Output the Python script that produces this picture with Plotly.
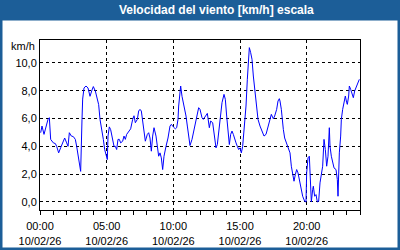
import datetime as dt
import plotly.graph_objects as go

# minutes after 10/02/26 00:00
minutes = [3, 9, 18, 27, 36, 42, 48, 60, 69, 75, 84, 93, 102, 111, 120, 126, 132, 141, 150, 159,
           165, 171, 177, 183, 189, 192, 198, 207, 216, 225, 234, 240, 249, 258, 264, 270, 276, 285,
           291, 297, 303, 306, 312, 318, 324, 333, 339, 345, 351, 357,
           363, 372, 378, 384, 390, 399, 408, 417, 423, 429, 438, 444, 450, 456, 462, 468, 474, 483,
           489, 495, 501, 507, 513, 522, 528, 534, 540, 546, 552, 558, 567, 576, 585, 591, 600, 609,
           615, 621, 624, 630, 633, 639, 648, 657, 663, 669, 675, 684, 693, 702, 711, 714, 720,
           729, 735, 744, 753, 762, 768, 777, 786, 792, 798, 804, 810, 819, 828, 834, 840, 846, 852,
           858, 864, 870, 876, 882, 888, 894, 900, 906, 912, 918, 927, 933, 939, 942, 948, 954, 960,
           966, 975, 981, 990, 999, 1008, 1017, 1023, 1032, 1041, 1050, 1056, 1065, 1071, 1077,
           1080, 1086, 1089, 1095, 1101, 1110, 1119, 1125, 1131, 1137, 1143, 1149, 1155, 1161, 1167,
           1173, 1182, 1191, 1197, 1200, 1206, 1212, 1218, 1221, 1227, 1230, 1236, 1242, 1248, 1254,
           1260, 1266, 1272, 1278, 1284, 1290, 1296, 1302, 1305, 1311, 1317, 1323, 1332, 1335, 1338,
           1341, 1344, 1347, 1353, 1356, 1362, 1368, 1374, 1380, 1383, 1389, 1392, 1398, 1404, 1410,
           1416, 1425, 1431, 1437]
speed = [4.98, 5.46, 4.86, 5.46, 5.94, 6.06, 4.5, 4.25, 4.2, 4.0, 3.53, 3.9, 4.25, 4.6, 4.25, 4.0,
         4.98, 4.74, 4.7, 4.5, 4.0, 3.4, 3.05, 2.2, 5.94, 7.4, 8.2, 8.34, 8.2, 7.6, 8.05, 8.3, 7.98,
         7.5, 7.0, 5.94, 5.46, 4.5, 3.77, 3.41, 3.05, 4.74, 5.4, 5.2, 4.74, 4.0, 4.0, 3.77, 4.5, 4.5,
         4.25, 4.37, 4.74, 4.5, 4.86, 5.1, 5.26, 5.94, 6.2, 5.7, 5.94, 6.54, 6.66, 6.54, 5.82, 4.74,
         4.37, 4.86, 4.98, 4.6, 3.65, 4.74, 5.34, 4.74, 3.77, 3.29, 3.53, 3.17, 2.33, 3.29, 4.0, 4.6,
         5.46, 5.58, 5.4, 5.26, 5.34, 5.94, 6.9, 8.1, 8.34, 7.6, 7.0, 6.18, 5.46, 4.5, 4.06, 4.5,
         5.22, 5.94, 6.66, 6.78, 6.66,
         6.06, 5.94, 6.18, 6.37, 5.34, 5.82, 5.7, 4.74, 3.89, 4.13, 4.98, 6.06, 7.14, 7.74, 7.38,
         6.18, 4.98, 4.13, 4.86, 5.1, 4.86, 4.5, 4.25, 4.0, 3.77, 3.89, 3.53, 4.0, 4.98, 6.9, 8.82,
         10.26, 11.1, 10.74, 10.26, 9.06, 8.1, 7.14, 5.94, 5.46, 5.1, 4.74, 4.86, 5.22, 5.94, 6.3,
         5.98, 6.18, 6.66, 7.26, 7.43,
         7.26, 6.66, 5.94, 5.22, 4.6, 4.25, 3.89, 3.53, 2.57, 1.97, 1.49, 1.97, 2.33, 2.09, 1.61,
         1.0, 0.41, 0.05, 0.0, 2.09, 3.17, 3.29, 1.37, 0.0, 0.89, 1.13, 0.41, 0.53, 0.0, 0.05,
         1.37, 2.09, 2.57, 4.5, 3.77, 2.57, 3.29, 5.34, 4.0, 3.29, 2.81, 2.45, 2.33, 2.09, 1.61,
         0.41, 2.09, 3.53, 4.74, 5.94, 6.66, 7.26, 7.62, 7.14, 7.02, 7.62, 8.34, 8.1, 7.86, 7.5,
         7.98, 8.34, 8.58, 8.82]

y_ticks = [0, 2, 4, 6, 8, 10]
y_labels = ["0,0", "2,0", "4,0", "6,0", "8,0", "10,0"]
title_text = "Velocidad del viento [km/h] escala"
unit_text = "km/h"

base = dt.datetime(2026, 2, 10)
times = [base + dt.timedelta(minutes=m) for m in minutes]

BLUE = "#1c5e98"
FONT = "Liberation Sans"

fig = go.Figure(go.Scatter(x=times, y=speed, mode="lines",
                           line=dict(color="#0000ff", width=1), hoverinfo="skip"))

fig.update_layout(
    width=400, height=250,
    margin=dict(l=40, r=40, t=40, b=40, autoexpand=False),
    paper_bgcolor="white", plot_bgcolor="white",
    showlegend=False,
    font=dict(family=FONT, size=11, color="#000000"),
)
fig.update_xaxes(
    type="date", automargin=False,
    range=[base, base + dt.timedelta(hours=24)],
    tickmode="linear", tick0=base, dtick=5 * 3600000,
    tickformat="%H:%M<br>%d/%m/%y",
    ticks="outside", ticklen=4, tickcolor="black",
    ticklabelstandoff=2,
    minor=dict(dtick=3600000, ticks="outside", ticklen=4, tickcolor="black", showgrid=False),
    showgrid=True, gridcolor="black", griddash="3px,3px", gridwidth=1,
    showline=True, mirror=True, linecolor="black", linewidth=1,
    zeroline=False, tickfont=dict(family=FONT, size=11, color="#000000"),
)
fig.update_yaxes(
    range=[-0.58, 11.65], automargin=False,
    tickmode="array", tickvals=y_ticks, ticktext=y_labels,
    ticks="", showgrid=True, gridcolor="black", griddash="3px,3px", gridwidth=1,
    showline=True, mirror=True, linecolor="black", linewidth=1,
    zeroline=False, tickfont=dict(family=FONT, size=11, color="#000000"),
)

# paper coordinates: plot area x 40..360 px, y 40..210 px
def px_x(p):
    return (p - 40) / 320.0

def px_y(p):
    return (210 - p) / 170.0

fig.add_shape(type="rect", xref="paper", yref="paper",
              x0=px_x(0), x1=px_x(400), y0=px_y(20.5), y1=px_y(0),
              fillcolor=BLUE, line=dict(width=0), layer="above")
fig.add_shape(type="rect", xref="paper", yref="paper",
              x0=px_x(0), x1=px_x(400), y0=px_y(250), y1=px_y(0),
              fillcolor="rgba(0,0,0,0)", line=dict(color=BLUE, width=5), layer="above")
fig.add_annotation(xref="paper", yref="paper", x=px_x(216), y=px_y(10.5),
                   text="<b>" + title_text + "</b>", showarrow=False,
                   xanchor="center", yanchor="middle",
                   font=dict(family=FONT, size=12, color="white"))
fig.add_annotation(xref="paper", yref="paper", x=px_x(37), y=px_y(46),
                   text=unit_text, showarrow=False,
                   xanchor="right", yanchor="middle",
                   font=dict(family=FONT, size=11, color="#000000"))

fig.write_html("out.html")
